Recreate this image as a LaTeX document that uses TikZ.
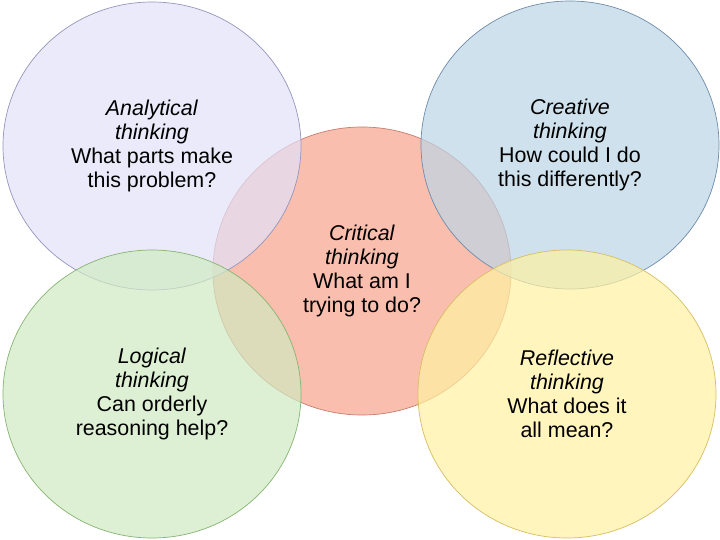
\documentclass[tikz,border=0pt]{standalone}
\usepackage{fontspec}
\setmainfont{Liberation Sans}
\usetikzlibrary{shapes.geometric}
\definecolor{lavF}{RGB}{226,226,249}
\definecolor{lavD}{RGB}{150,150,190}
\definecolor{bluF}{RGB}{188,213,229}
\definecolor{bluD}{RGB}{110,140,170}
\definecolor{redF}{RGB}{249,190,173}
\definecolor{redD}{RGB}{200,125,110}
\definecolor{grnF}{RGB}{208,234,194}
\definecolor{grnD}{RGB}{135,180,115}
\definecolor{yelF}{RGB}{255,242,162}
\definecolor{yelD}{RGB}{215,190,100}
\begin{document}
\begin{tikzpicture}[x=1bp,y=-1bp,
  venn/.style={ellipse, minimum width=298bp, minimum height=288bp, inner sep=0pt,
    align=center, fill opacity=0.7, text opacity=1, line width=0.7bp,
    font=\fontsize{21.5}{24}\selectfont}]
\useasboundingbox (0,0) rectangle (720,540);
\fill[white] (0,0) rectangle (720,540);
\node[venn, fill=redF, fill opacity=1, draw=redD] (cri) at (362,271)
  {\textit{Critical}\\\textit{thinking}\\What am I\\trying to do?};
\node[venn, fill=lavF, draw=lavD] (ana) at (152,146)
  {\textit{Analytical}\\\textit{thinking}\\What parts make\\this problem?};
\node[venn, fill=bluF, draw=bluD] (cre) at (570,145)
  {\textit{Creative}\\\textit{thinking}\\How could I do\\this differently?};
\node[venn, fill=grnF, draw=grnD] (log) at (152,394)
  {\textit{Logical}\\\textit{thinking}\\Can orderly\\reasoning help?};
\node[venn, fill=yelF, draw=yelD] (ref) at (567,394)
  {\textit{Reflective}\\\textit{thinking}\\What does it\\all mean?};
\end{tikzpicture}
\end{document}
